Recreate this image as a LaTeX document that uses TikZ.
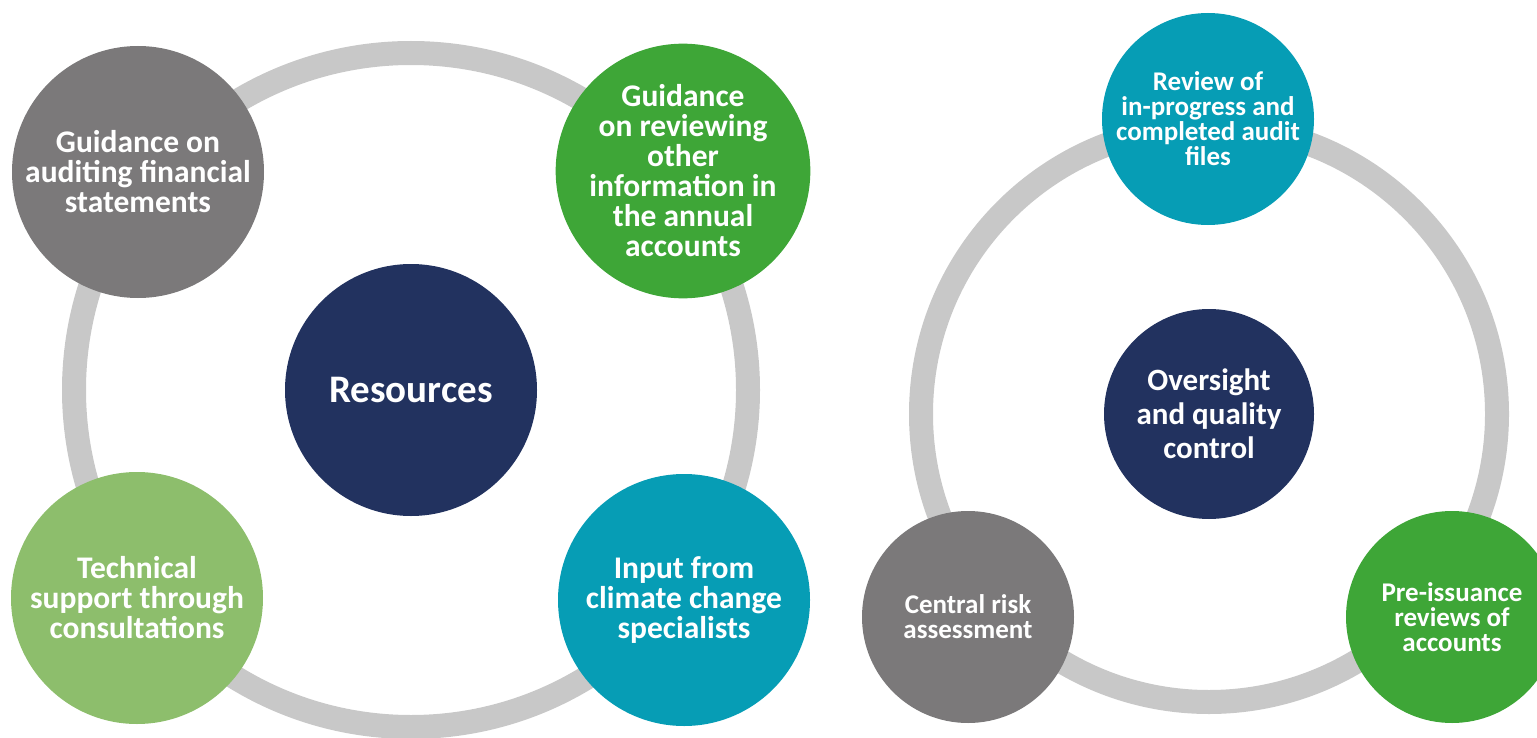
\documentclass[tikz,border=0pt]{standalone}
\usepackage{fontspec}
\setsansfont{Carlito}
\definecolor{hubblue}{RGB}{34,50,95}
\definecolor{stonegray}{RGB}{123,121,122}
\definecolor{leafgreen}{RGB}{62,166,55}
\definecolor{sagegreen}{RGB}{141,190,108}
\definecolor{seateal}{RGB}{6,157,181}
\definecolor{ringgray}{RGB}{200,200,200}

\begin{document}
\begin{tikzpicture}[
  x=0.5pt, y=-0.5pt,
  font=\sffamily\bfseries,
  disc/.style={
    circle,
    text=white,
    align=center,
    inner sep=0pt
  },
  bigdisc/.style={disc, minimum size=126pt, font=\sffamily\bfseries\fontsize{15.75}{15}\selectfont},
  smalldisc/.style={disc, minimum size=106pt, font=\sffamily\bfseries\fontsize{13.5}{12.5}\selectfont},
  hub/.style={disc, fill=hubblue},
  ring/.style={draw=ringgray, line width=12pt}
]
\useasboundingbox (0,0) rectangle (1537,738);

\node[hub, minimum size=126pt, font=\sffamily\bfseries\fontsize{19.5}{21}\selectfont] (res) at (411,390) {Resources};
\draw[ring] (res.center) circle[radius=168.5pt];

\node[bigdisc, fill=stonegray] (audit) at (138,172) {Guidance on\\auditing financial\\statements};
\node[bigdisc, fill=leafgreen] (other) at (683,171) {Guidance\\on reviewing\\other\\information in\\the annual\\accounts};
\node[bigdisc, fill=sagegreen] (consult) at (137,598) {Technical\\support through\\consultations};
\node[bigdisc, fill=seateal] (climate) at (684,600) {Input from\\climate change\\specialists};

\node[hub, minimum size=105pt, font=\sffamily\bfseries\fontsize{15.5}{17}\selectfont] (qc) at (1209,414) {Oversight\\and quality\\control};
\draw[ring] (qc.center) circle[radius=144pt];

\node[smalldisc, fill=seateal] (files) at (1208,119) {Review of\\in-progress and\\completed audit\\files};
\node[smalldisc, fill=stonegray] (risk) at (968,617) {Central risk\\assessment};
\node[smalldisc, fill=leafgreen] (preiss) at (1452,617) {Pre-issuance\\reviews of\\accounts};

\end{tikzpicture}
\end{document}
